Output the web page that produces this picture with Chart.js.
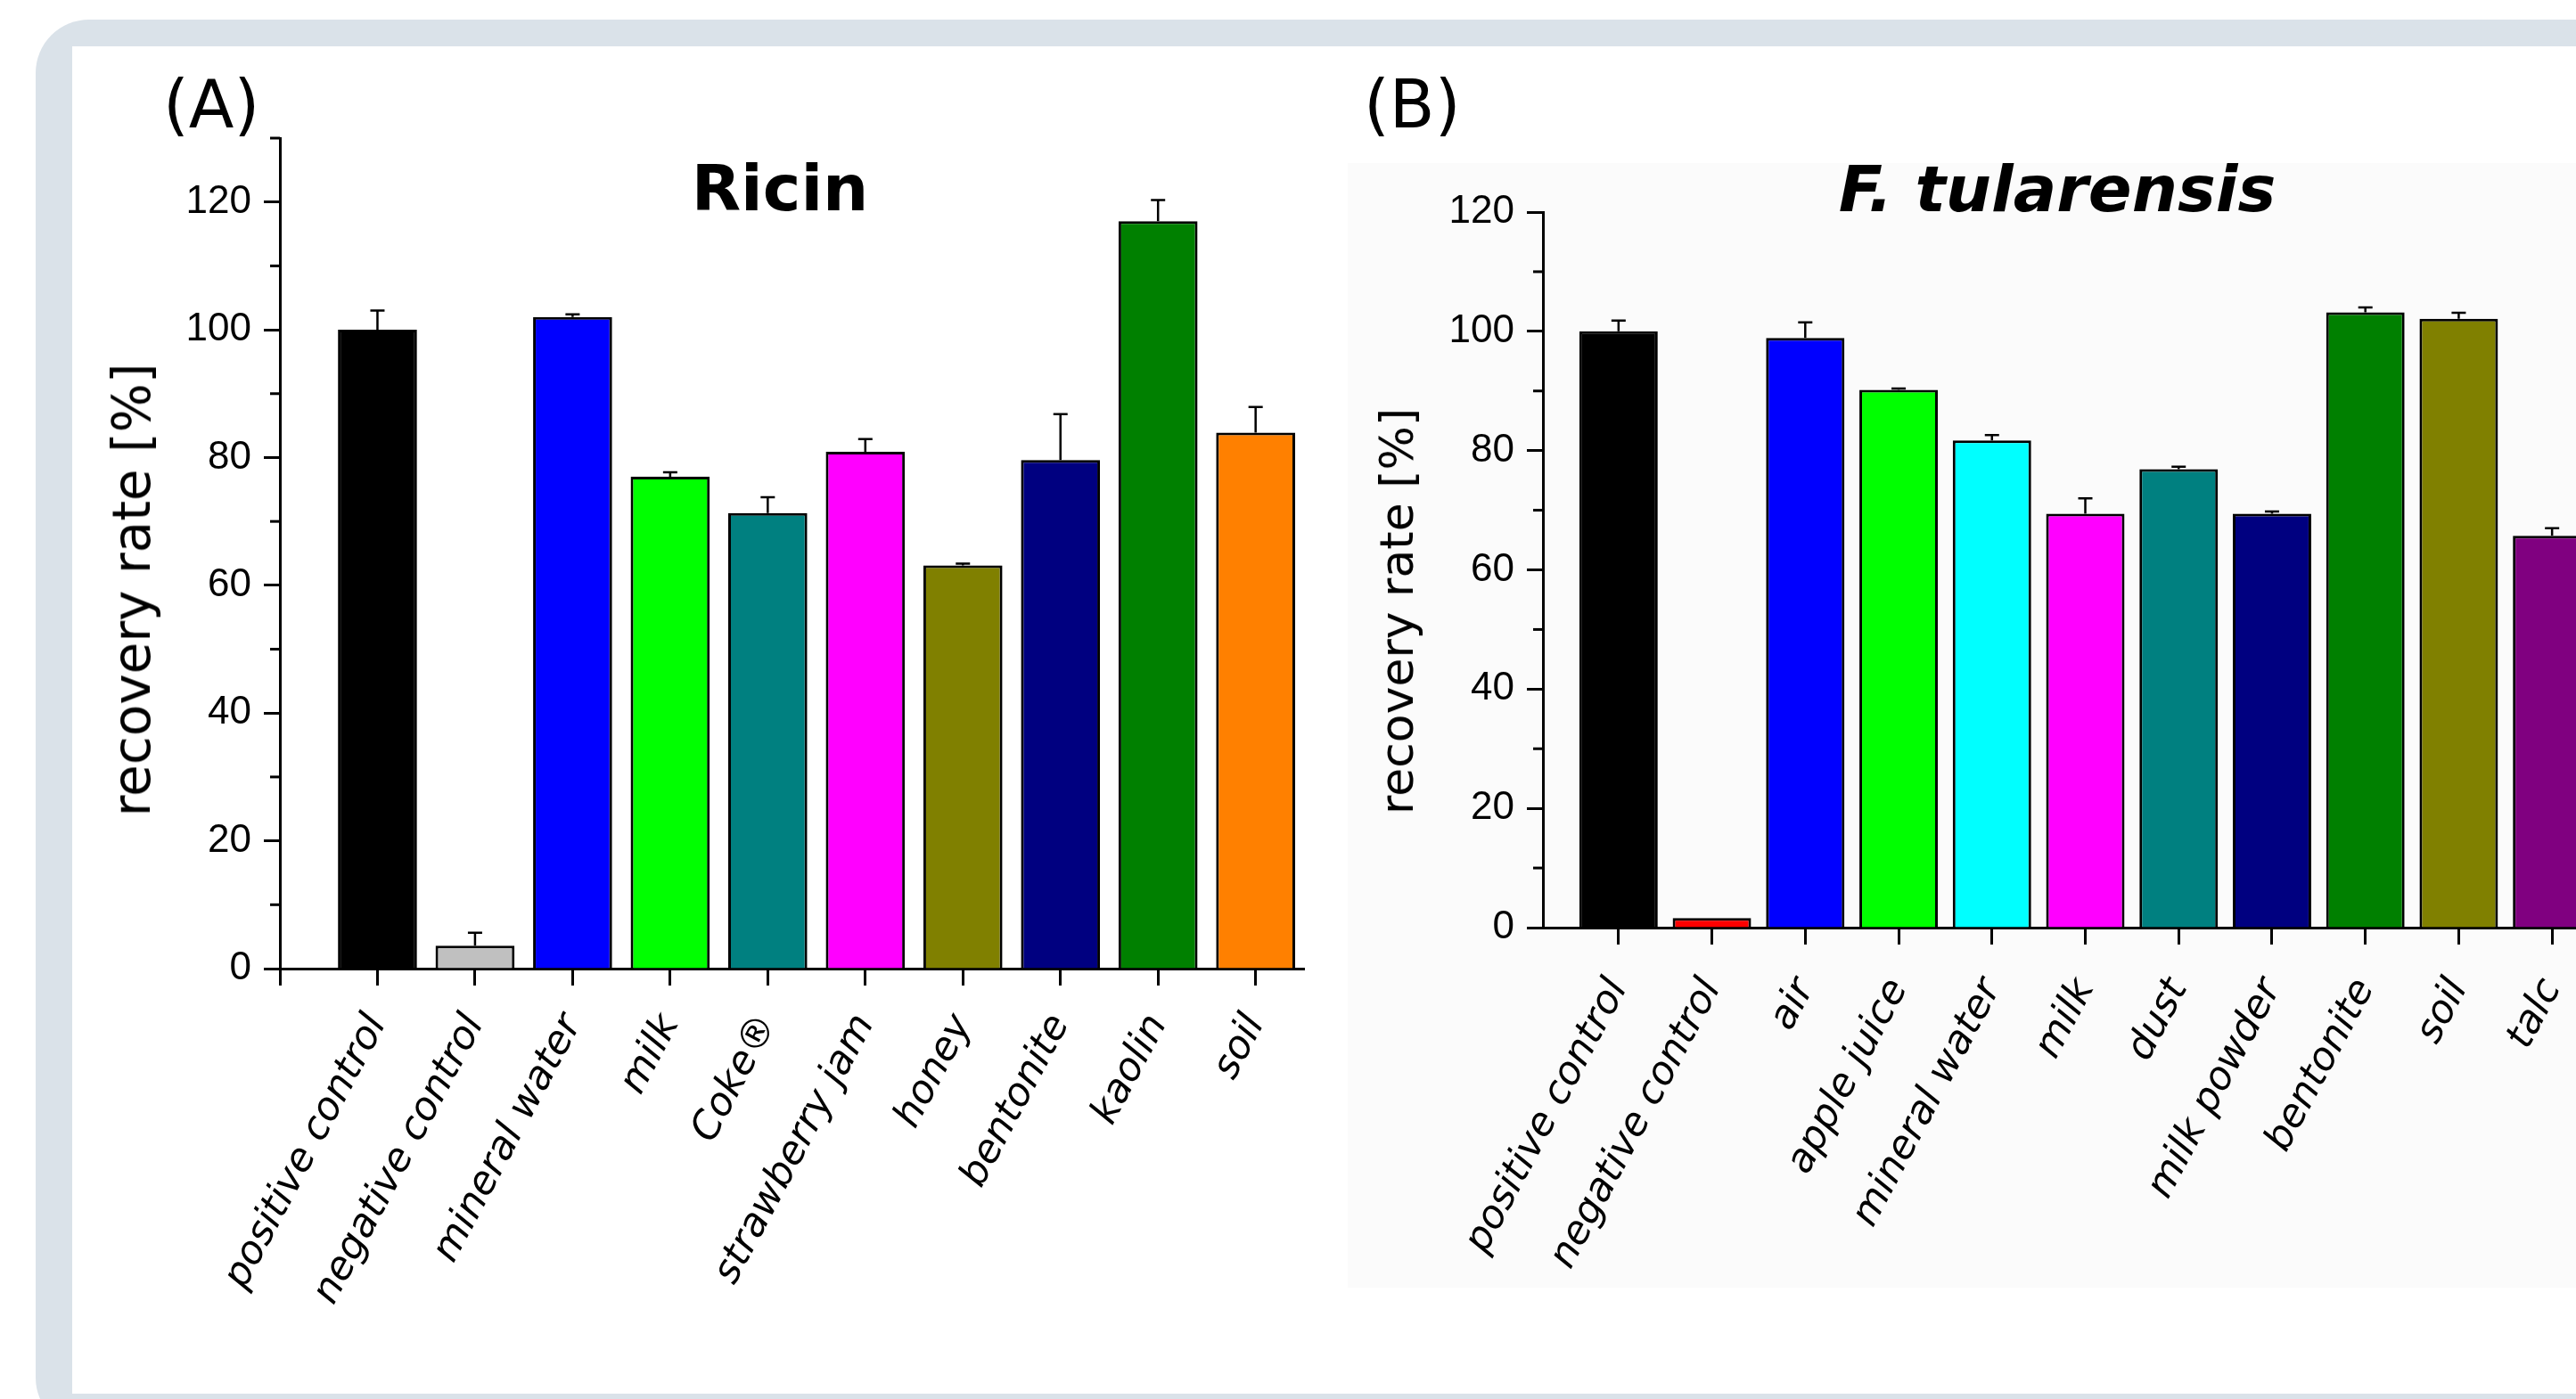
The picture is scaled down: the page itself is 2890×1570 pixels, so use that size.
<!DOCTYPE html>
<html>
<head>
<meta charset="utf-8">
<script src="https://cdn.jsdelivr.net/npm/chart.js@4.4.1/dist/chart.umd.min.js"></script>
<style>
html, body { margin: 0; padding: 0; width: 2890px; height: 1570px; overflow: hidden; background: #fff; }
.frame { position: absolute; left: 40px; top: 22px; width: 3000px; height: 1584px; background: #dae2e9; border-radius: 60px; }
.panel { position: absolute; left: 81px; top: 52px; width: 2900px; height: 1512px; background: #fff; }
.shadeB { position: absolute; left: 1512px; top: 183px; width: 1500px; height: 1262px; background: #fbfbfb; }
canvas { position: absolute; top: 0; }
#chartA { left: 0; }
#chartB { left: 1480px; }
.tag { position: absolute; font-family: 'DejaVu Sans'; font-size: 74px; line-height: 1; color: #000; }
.title { position: absolute; font-family: 'DejaVu Sans'; font-weight: bold; font-size: 72px; line-height: 1; color: #000; transform: translateX(-50%); white-space: nowrap; }
.ytitle { position: absolute; font-family: 'DejaVu Sans'; line-height: 1; color: #000; white-space: nowrap; transform: translate(-50%, -50%) rotate(-90deg); }
</style>
</head>
<body>
<div class="frame"></div>
<div class="panel"></div>
<div class="shadeB"></div>
<canvas id="chartA" width="1480" height="1570"></canvas>
<canvas id="chartB" width="1480" height="1570"></canvas>
<div class="tag" style="left:183px; top:80px;">(A)</div>
<div class="tag" style="left:1530px; top:80px;">(B)</div>
<div class="title" style="left:875px; top:175px;">Ricin</div>
<div class="title" style="left:2308px; top:176px; font-style:italic;">F. tularensis</div>
<div class="ytitle" style="left:148px; top:662px; font-size:58px;">recovery rate [%]</div>
<div class="ytitle" style="left:1567px; top:686px; font-size:52px;">recovery rate [%]</div>
<script>
// Ricin (A)
const ricinCategories = ['positive control', 'negative control', 'mineral water', 'milk', 'Coke®',
    'strawberry jam', 'honey', 'bentonite', 'kaolin', 'soil'];
const ricinValues = [100, 3.6, 102, 77, 71.3, 80.9, 63.1, 79.6, 117, 83.9];
const ricinErrors = [3.0, 2.0, 0.4, 0.7, 2.5, 2.0, 0.3, 7.2, 3.3, 4.0];
const ricinColors = ['#000000', '#c0c0c0', '#0000ff', '#00ff00', '#008080',
    '#ff00ff', '#808000', '#000080', '#008000', '#ff8000'];

// F. tularensis (B)
const tulaCategories = ['positive control', 'negative control', 'air', 'apple juice', 'mineral water',
    'milk', 'dust', 'milk powder', 'bentonite', 'soil', 'talc'];
const tulaValues = [100, 1.6, 98.9, 90.2, 81.7, 69.4, 76.9, 69.4, 103.2, 102.1, 65.7];
const tulaErrors = [1.8, 0, 2.6, 0.2, 0.9, 2.6, 0.4, 0.4, 0.8, 1.0, 1.3];
const tulaColors = ['#000000', '#ff0000', '#0000ff', '#00ff00', '#00ffff',
    '#ff00ff', '#008080', '#000080', '#008000', '#808000', '#800080'];

// tick labels
const yMajorTicks = [0, 20, 40, 60, 80, 100, 120];
const yMinorTicksA = [10, 30, 50, 70, 90, 110, 130];
const yMinorTicksB = [10, 30, 50, 70, 90, 110];

// error bars (upper half only, like Origin)
const errorBars = {
    id: 'errorBars',
    afterDatasetsDraw(chart, args, opts) {
        const ctx = chart.ctx;
        const y = chart.scales.y;
        const meta = chart.getDatasetMeta(0);
        const data = chart.data.datasets[0].data;
        ctx.save();
        ctx.strokeStyle = '#000';
        ctx.lineWidth = 2.5;
        meta.data.forEach(function(bar, i) {
            const e = opts.errors[i];
            if (!e) return;
            const top = y.getPixelForValue(data[i].y);
            const tip = y.getPixelForValue(data[i].y + e);
            ctx.beginPath();
            ctx.moveTo(bar.x, top);
            ctx.lineTo(bar.x, tip);
            ctx.moveTo(bar.x - 8, tip);
            ctx.lineTo(bar.x + 8, tip);
            ctx.stroke();
        });
        ctx.restore();
    }
};

// short minor ticks on the y axis
const minorTicks = {
    id: 'minorTicks',
    afterDraw(chart, args, opts) {
        const ctx = chart.ctx;
        const y = chart.scales.y;
        const x0 = chart.chartArea.left;
        ctx.save();
        ctx.strokeStyle = '#000';
        ctx.lineWidth = 3;
        opts.values.forEach(function(v) {
            const py = y.getPixelForValue(v);
            ctx.beginPath();
            ctx.moveTo(x0, py);
            ctx.lineTo(x0 - 11, py);
            ctx.stroke();
        });
        ctx.restore();
    }
};

function makeChart(id, cats, values, errors, colors, cfg) {
    const points = values.map(function(v, i) { return { x: i + 1, y: v }; });
    return new Chart(document.getElementById(id), {
        type: 'bar',
        data: {
            datasets: [{
                data: points,
                backgroundColor: colors,
                borderColor: '#000',
                borderWidth: 3,
                barPercentage: 1,
                categoryPercentage: cfg.barFrac
            }]
        },
        plugins: [errorBars, minorTicks],
        options: {
            responsive: false,
            animation: false,
            devicePixelRatio: 1,
            layout: { padding: { top: cfg.top, left: 0, right: cfg.right, bottom: 0 } },
            plugins: {
                legend: { display: false },
                tooltip: { enabled: false },
                errorBars: { errors: errors },
                minorTicks: { values: cfg.minor }
            },
            scales: {
                x: {
                    type: 'linear',
                    offset: false,
                    min: cfg.xMin,
                    max: cfg.xMax,
                    afterFit: function(s) { s.height = 1570 - cfg.bottom; },
                    afterBuildTicks: function(s) {
                        s.ticks = cfg.xTicks.map(function(v) { return { value: v }; });
                    },
                    grid: { offset: false, drawOnChartArea: false, drawTicks: true, tickLength: 19, tickWidth: 3, tickColor: '#000' },
                    border: { display: true, color: '#000', width: 3 },
                    ticks: {
                        autoSkip: false,
                        minRotation: 62,
                        maxRotation: 62,
                        padding: cfg.labelPad,
                        color: '#000',
                        font: { family: 'DejaVu Sans', style: 'italic', size: 44 },
                        callback: function(v) { return cats[v - 1] || ''; }
                    }
                },
                y: {
                    min: 0,
                    max: cfg.yMax,
                    afterFit: function(s) { s.width = cfg.left; },
                    afterBuildTicks: function(s) {
                        s.ticks = yMajorTicks.map(function(v) { return { value: v }; });
                    },
                    grid: { drawOnChartArea: false, drawTicks: true, tickLength: 18, tickWidth: 3, tickColor: '#000' },
                    border: { display: true, color: '#000', width: 3 },
                    ticks: {
                        padding: 14,
                        color: '#000',
                        font: { family: 'Liberation Sans', size: 44 }
                    }
                }
            }
        }
    });
}

makeChart('chartA', ricinCategories, ricinValues, ricinErrors, ricinColors, {
    barFrac: 0.81, top: 155, bottom: 1087, left: 314, right: 15, labelPad: 24,
    xMin: 0, xMax: 10.5, xTicks: [0, 1, 2, 3, 4, 5, 6, 7, 8, 9, 10],
    yMax: 130, minor: yMinorTicksA
});

makeChart('chartB', tulaCategories, tulaValues, tulaErrors, tulaColors, {
    barFrac: 0.84, top: 238, bottom: 1041, left: 251, right: 34, labelPad: 30,
    xMin: 0.19, xMax: 11.6, xTicks: [1, 2, 3, 4, 5, 6, 7, 8, 9, 10, 11],
    yMax: 120, minor: yMinorTicksB
});
</script>
</body>
</html>
